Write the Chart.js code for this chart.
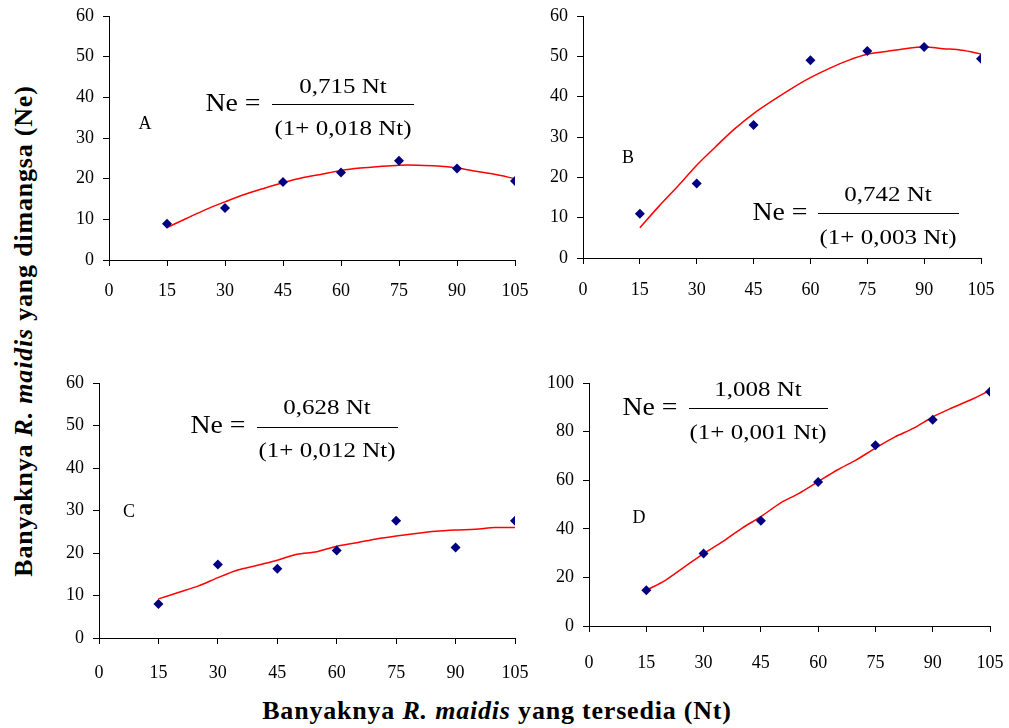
<!DOCTYPE html>
<html>
<head>
<meta charset="utf-8">
<script src="https://cdn.jsdelivr.net/npm/chart.js@4/dist/chart.umd.min.js"></script>
<style>
    body { margin: 0; background: #fff; }
    #page { position: relative; width: 1009px; height: 728px; overflow: hidden; font-family: "Liberation Serif", serif; color: #000; }
    .panel { position: absolute; }
    .txt { position: absolute; transform: translate(-50%, -50%); white-space: nowrap; line-height: 1; }
    .lbl { font-size: 18px; }
    .ne { font-size: 26px; transform: translate(-50%, -50%) scaleX(1.07); }
    .frac { font-size: 20px; transform: translate(-50%, -50%) scaleX(1.25); }
    .bar { position: absolute; border-top: 1px solid #000; height: 0; }
    .title { position: absolute; font-weight: bold; font-size: 26px; letter-spacing: 0.8px; white-space: nowrap; line-height: 1; }
</style>
</head>
<body>
<div id="page">
    <canvas id="chartA" class="panel"></canvas>
    <canvas id="chartB" class="panel"></canvas>
    <canvas id="chartC" class="panel"></canvas>
    <canvas id="chartD" class="panel"></canvas>

    <!-- panel A -->
    <div class="txt lbl" style="left:145px;top:123px">A</div>
    <div class="txt ne" style="left:233px;top:103px">Ne =</div>
    <div class="txt frac" style="left:343px;top:86px">0,715 Nt</div>
    <div class="bar" style="left:272px;top:104px;width:142px"></div>
    <div class="txt frac" style="left:343px;top:128px">(1+ 0,018 Nt)</div>

    <!-- panel B -->
    <div class="txt lbl" style="left:628px;top:157px">B</div>
    <div class="txt ne" style="left:780px;top:212px">Ne =</div>
    <div class="txt frac" style="left:888px;top:194px">0,742 Nt</div>
    <div class="bar" style="left:818px;top:213px;width:141px"></div>
    <div class="txt frac" style="left:888px;top:237px">(1+ 0,003 Nt)</div>

    <!-- panel C -->
    <div class="txt lbl" style="left:129px;top:511px">C</div>
    <div class="txt ne" style="left:218px;top:425px">Ne =</div>
    <div class="txt frac" style="left:327px;top:407px">0,628 Nt</div>
    <div class="bar" style="left:257px;top:427px;width:141px"></div>
    <div class="txt frac" style="left:327px;top:450px">(1+ 0,012 Nt)</div>

    <!-- panel D -->
    <div class="txt lbl" style="left:639px;top:517px">D</div>
    <div class="txt ne" style="left:650px;top:407px">Ne =</div>
    <div class="txt frac" style="left:758px;top:389px">1,008 Nt</div>
    <div class="bar" style="left:689px;top:408px;width:139px"></div>
    <div class="txt frac" style="left:758px;top:432px">(1+ 0,001 Nt)</div>

    <!-- shared axis titles -->
    <div class="title" style="left:24px;top:331px;transform:translate(-50%,-50%) rotate(-90deg)">Banyaknya <i>R. maidis</i> yang dimangsa (Ne)</div>
    <div class="title" style="left:497px;top:711px;transform:translate(-50%,-50%)">Banyaknya <i>R. maidis</i> yang tersedia (Nt)</div>
</div>

<script>
// Observed prey numbers (Nt offered)
const ntValues = [15, 30, 45, 60, 75, 90, 105];

// Observed prey eaten (Ne) per panel
const obsA = [8.9, 12.8, 19.2, 21.5, 24.4, 22.5, 19.4];
const obsB = [11, 18.5, 33, 49, 51.3, 52.3, 49.4];
const obsC = [8, 17.3, 16.3, 20.6, 27.6, 21.3, 27.6];
const obsD = [14.7, 29.8, 43.3, 59.3, 74.4, 84.9, 96.4];

// Fitted curve
const fitNt = [15, 20, 25, 30, 35, 40, 45, 50, 55, 60, 65, 70, 75, 80, 85, 90, 95, 100, 105];
const fitA = [8, 10.2, 12.4, 14.3, 16.1, 17.6, 19, 20.2, 21.1, 22, 22.6, 23, 23.3, 23.3, 23.1, 22.6, 21.8, 21, 20];
const fitB = [7.5, 12.8, 17.8, 23, 27.6, 32, 35.8, 39, 42, 44.7, 47, 49, 50.5, 51.2, 51.9, 52.3, 51.9, 51.5, 50.6];
const fitC = [9.2, 10.7, 12.2, 14.2, 16, 17.1, 18.3, 19.7, 20.3, 21.6, 22.4, 23.3, 24, 24.6, 25.1, 25.4, 25.6, 26, 26];
const fitD = [14.7, 18.8, 24.3, 29.8, 34.7, 40.2, 45, 50.5, 54.6, 59.4, 64.2, 68.4, 73.2, 77.7, 81.4, 86, 89.7, 93.1, 97];

// Axis tick settings
const xMax = 105;
const xStep = 15;

const Y_AXIS_W = 50;
const X_AXIS_H = 55;
const PAD_TOP = 22;
const PAD_RIGHT = 36;

/**
 * Build one panel so that its plot area lands on the given box
 */
function createPanel(id, area, yMax, yStep, observed, fitted, xLabelPad) {
    const canvas = document.getElementById(id);
    const w = (area.right - area.left) + Y_AXIS_W + PAD_RIGHT;
    const h = (area.bottom - area.top) + PAD_TOP + X_AXIS_H;
    canvas.style.left = (area.left - Y_AXIS_W) + 'px';
    canvas.style.top = (area.top - PAD_TOP) + 'px';
    canvas.style.width = w + 'px';
    canvas.style.height = h + 'px';
    canvas.width = w;
    canvas.height = h;

    const tickFont = { family: '"Liberation Serif", serif', size: 18 };

    return new Chart(canvas, {
        type: 'scatter',
        data: {
            datasets: [{
                label: 'Fit',
                data: fitNt.map((x, i) => ({ x: x, y: fitted[i] })),
                showLine: true,
                borderColor: '#ff0000',
                borderWidth: 1.5,
                pointRadius: 0,
                tension: 0.3,
                order: 2
            }, {
                label: 'Observed',
                data: ntValues.map((x, i) => ({ x: x, y: observed[i] })),
                pointStyle: 'rectRot',
                pointRadius: 5,
                backgroundColor: '#000080',
                borderColor: '#000080',
                borderWidth: 0,
                order: 1
            }]
        },
        options: {
            responsive: false,
            animation: false,
            devicePixelRatio: 1,
            layout: { padding: { top: PAD_TOP, right: PAD_RIGHT, left: 0, bottom: 0 } },
            plugins: {
                legend: { display: false },
                tooltip: { enabled: false }
            },
            scales: {
                x: {
                    type: 'linear',
                    min: 0,
                    max: xMax,
                    afterFit: (scale) => { scale.height = X_AXIS_H; },
                    ticks: { stepSize: xStep, color: '#000', font: tickFont, padding: xLabelPad, maxRotation: 0 },
                    grid: { display: true, drawOnChartArea: false, drawTicks: true, tickLength: 6, color: '#000' },
                    border: { display: true, color: '#000', width: 1 }
                },
                y: {
                    min: 0,
                    max: yMax,
                    afterFit: (scale) => { scale.width = Y_AXIS_W; },
                    ticks: { stepSize: yStep, color: '#000', font: tickFont, padding: 9 },
                    grid: { display: true, drawOnChartArea: false, drawTicks: true, tickLength: 6, color: '#000' },
                    border: { display: true, color: '#000', width: 1 }
                }
            }
        }
    });
}

createPanel('chartA', { left: 109, right: 515, top: 16, bottom: 260 }, 60, 10, obsA, fitA, 14);
createPanel('chartB', { left: 583, right: 981, top: 16, bottom: 258 }, 60, 10, obsB, fitB, 15);
createPanel('chartC', { left: 99, right: 515, top: 383, bottom: 638 }, 60, 10, obsC, fitC, 18);
createPanel('chartD', { left: 589, right: 990, top: 383, bottom: 626 }, 100, 20, obsD, fitD, 20);
</script>
</body>
</html>
